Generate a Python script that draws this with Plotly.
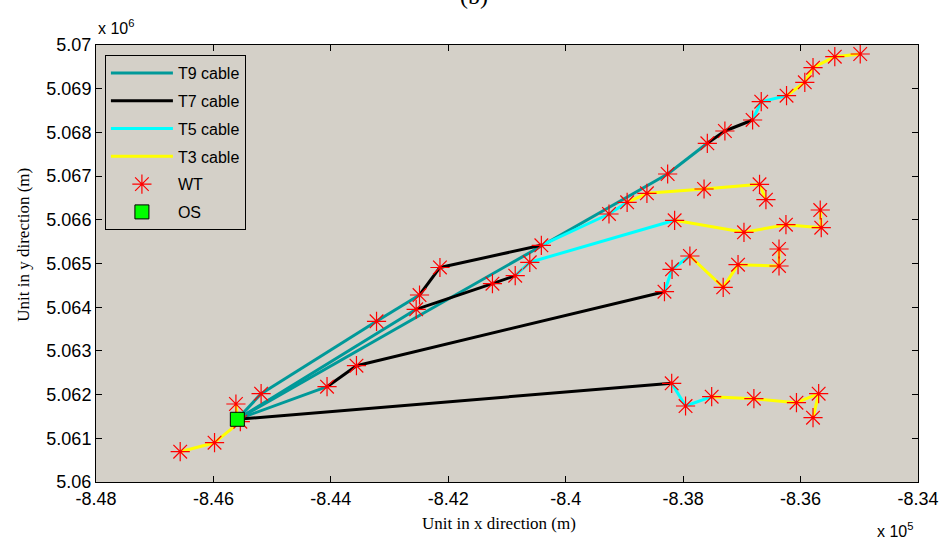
import plotly.graph_objects as go

# ---------------- data ----------------
os_x = [-845593]
os_y = [5061435]

# feeder A (lower, starts with T7)
fa_x = [-838195, -837959, -837514, -836795, -836070, -835692, -835788]
fa_y = [5062259, 5061739, 5061952, 5061906, 5061815, 5062021, 5061471]
fa_cable = [7, 5, 5, 3, 3, 3, 3]

# feeder E
fe_x = [-844065, -843564, -838318, -838189, -837885, -837318, -837065, -836367, -836367]
fe_y = [5062181, 5062661, 5064355, 5064867, 5065172, 5064455, 5064973, 5064943, 5065332]
fe_cable = [9, 7, 7, 5, 5, 3, 3, 3, 3]

# feeder F
ff_x = [-842547, -841248, -840860, -840612, -838145, -836964, -836249, -835648, -835665]
ff_y = [5063952, 5064538, 5064721, 5065028, 5065989, 5065714, 5065888, 5065819, 5066224]
ff_cable = [9, 7, 7, 5, 5, 3, 3, 3, 3]

# feeder H
fh_x = [-845188, -843222, -842490, -842142, -840415, -839263, -838954, -838617, -837644, -836699, -836590]
fh_y = [5062021, 5063677, 5064279, 5064909, 5065417, 5066133, 5066400, 5066606, 5066705, 5066812, 5066460]
fh_cable = [9, 9, 9, 7, 7, 5, 5, 3, 3, 3, 3]

# feeder G (top)
fg_x = [-838264, -837588, -837289, -836817, -836670, -836239, -835928, -835788, -835417, -834984]
fg_y = [5067048, 5067751, 5068032, 5068284, 5068703, 5068840, 5069146, 5069481, 5069732, 5069794]
fg_cable = [9, 9, 7, 7, 5, 5, 3, 3, 3, 3]

# feeder B (lower-left)
fb_x = [-845542, -845981, -846566]
fb_y = [5061380, 5060899, 5060693]
fb_cable = [3, 3, 3]

# feeder C (single turbine)
fc_x = [-845617]
fc_y = [5061785]
fc_cable = [3]

cable_types = [9, 7, 5, 3]
cable_names = ["T9 cable", "T7 cable", "T5 cable", "T3 cable"]
cable_colors = ["#009999", "#000000", "#00ffff", "#ffff00"]

x_tickvals = [-848000, -846000, -844000, -842000, -840000, -838000, -836000, -834000]
x_ticktext = ["-8.48", "-8.46", "-8.44", "-8.42", "-8.4", "-8.38", "-8.36", "-8.34"]
y_tickvals = [5060000 + 1000 * i for i in range(11)]
y_ticktext = ["5.06", "5.061", "5.062", "5.063", "5.064", "5.065", "5.066", "5.067", "5.068", "5.069", "5.07"]

# ---------------- build segments ----------------
feeders = [(fa_x, fa_y, fa_cable), (fe_x, fe_y, fe_cable), (ff_x, ff_y, ff_cable),
           (fh_x, fh_y, fh_cable), (fg_x, fg_y, fg_cable), (fb_x, fb_y, fb_cable),
           (fc_x, fc_y, fc_cable)]

seg = {t: ([], []) for t in cable_types}
for fx, fy, fcab in feeders:
    px = os_x + fx
    py = os_y + fy
    for i, t in enumerate(fcab):
        seg[t][0].extend([px[i], px[i + 1], None])
        seg[t][1].extend([py[i], py[i + 1], None])

fig = go.Figure()
for t, name, col in zip(cable_types, cable_names, cable_colors):
    fig.add_trace(go.Scatter(x=seg[t][0], y=seg[t][1], mode="lines", name=name,
                             legendgroup=name,
                             line=dict(color=col, width=3), hoverinfo="skip"))

wt_x = []
wt_y = []
for fx, fy, _ in feeders:
    wt_x += fx
    wt_y += fy
fig.add_trace(go.Scatter(x=wt_x, y=wt_y, mode="markers", name="WT", legendgroup="WT",
                         marker=dict(symbol="asterisk-open", size=16, color="#ff0000",
                                     line=dict(color="#ff0000", width=1.2))))
fig.add_trace(go.Scatter(x=os_x, y=os_y, mode="markers", name="OS", legendgroup="OS",
                         marker=dict(symbol="square", size=14, color="#00ff00",
                                     line=dict(color="#000000", width=1))))

L, R, T, B = 96, 25, 45, 58
W, H = 951, 540
pw, ph = W - L - R, H - T - B


def px2paper(px, py):
    return (px - L) / pw, (H - B - py) / ph


axis_common = dict(showgrid=False, zeroline=False, showline=True, linecolor="#000000",
                   linewidth=1, mirror="allticks", ticks="inside", ticklen=6,
                   tickcolor="#000000", tickfont=dict(family="Liberation Sans, Arial", size=18, color="#000000"))

fig.update_layout(
    width=W, height=H,
    margin=dict(l=L, r=R, t=T, b=B),
    paper_bgcolor="#ffffff",
    plot_bgcolor="#d4d0c8",
    showlegend=True,
    legend=dict(x=px2paper(105, 55)[0], y=px2paper(105, 55)[1], xanchor="left", yanchor="top",
                bgcolor="#d4d0c8", bordercolor="#000000", borderwidth=1,
                font=dict(family="Liberation Sans, Arial", size=16, color="#000000"),
                tracegroupgap=4, itemwidth=62, traceorder="grouped"),
    xaxis=dict(range=[-848000, -834000], tickvals=x_tickvals, ticktext=x_ticktext, **axis_common),
    yaxis=dict(range=[5060000, 5070000], tickvals=y_tickvals, ticktext=y_ticktext, **axis_common),
)

ann = []


def add_ann(text, px, py, size, family, angle=0):
    xp, yp = px2paper(px, py)
    ann.append(dict(text=text, x=xp, y=yp, xref="paper", yref="paper", xanchor="center",
                    yanchor="middle", textangle=angle, showarrow=False,
                    font=dict(family=family, size=size, color="#000000")))


serif = "Liberation Serif, Times New Roman"
sans = "Liberation Sans, Arial"
add_ann("Unit in x direction (m)", 503, 523, 17, serif)
add_ann("Unit in y direction (m)", 22, 245, 17, serif, -90)
add_ann("x 10<sup>6</sup>", 116, 27, 16, sans)
add_ann("x 10<sup>5</sup>", 903, 530, 16, sans)
add_ann("(b)", 478, -4, 24, serif)
fig.update_layout(annotations=ann)

fig.write_html("out.html")
